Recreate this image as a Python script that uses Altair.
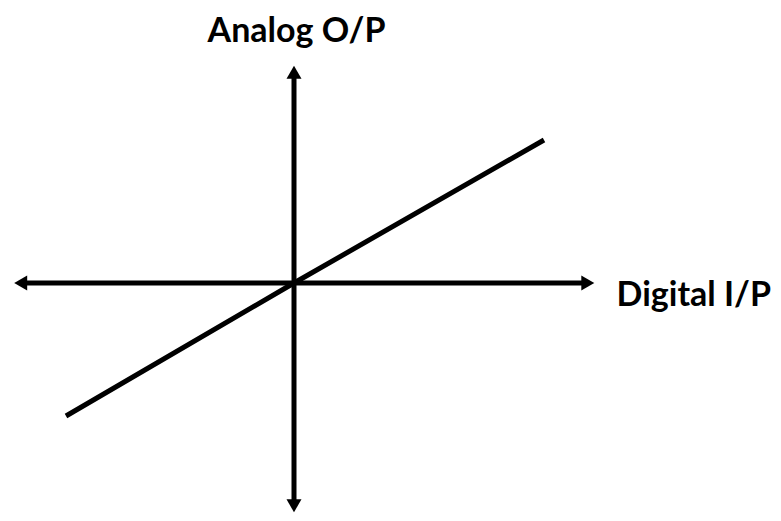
import altair as alt
import pandas as pd

# Axis extents (tip to tip), in signal units
x_axis_ends = [-27.95, 30.0]    # Digital I/P axis
y_axis_ends = [-22.9, 21.7]     # Analog O/P axis

# Transfer characteristic (linear, through origin)
line_x = [-22.8, 0.0, 25.0]
line_y = [-13.3, 0.0, 14.3]

# Axis titles
axis_labels = ["Analog O/P", "Digital I/P"]
label_x = [0.25, 47.7]
label_y = [24.1, -2.3]
label_align = ["center", "right"]

head = 0.62  # arrowhead centre offset from tip

xs = alt.Scale(domain=[-28.6, 47.9], nice=False, zero=False)
ys = alt.Scale(domain=[-23.0, 27.5], nice=False, zero=False)

shafts = pd.DataFrame({
    "x": [x_axis_ends[0] + head, 0.0],
    "x2": [x_axis_ends[1] - head, 0.0],
    "y": [0.0, y_axis_ends[0] + head],
    "y2": [0.0, y_axis_ends[1] - head],
})

heads = pd.DataFrame({
    "x": [x_axis_ends[0] + head, x_axis_ends[1] - head, 0.0, 0.0],
    "y": [0.0, 0.0, y_axis_ends[1] - head, y_axis_ends[0] + head],
    "shape": ["triangle-left", "triangle-right", "triangle-up", "triangle-down"],
})

line_df = pd.DataFrame({"x": line_x, "y": line_y})

shaft_layer = alt.Chart(shafts).mark_rule(color="black", strokeWidth=5).encode(
    x=alt.X("x:Q", scale=xs, axis=None),
    x2="x2:Q",
    y=alt.Y("y:Q", scale=ys, axis=None),
    y2="y2:Q",
)

head_layer = alt.Chart(heads).mark_point(
    filled=True, size=225, color="black", opacity=1, strokeWidth=0
).encode(
    x=alt.X("x:Q", scale=xs, axis=None),
    y=alt.Y("y:Q", scale=ys, axis=None),
    shape=alt.Shape("shape:N", scale=None, legend=None),
)

line_layer = alt.Chart(line_df).mark_line(color="black", strokeWidth=5, strokeCap="butt").encode(
    x=alt.X("x:Q", scale=xs, axis=None),
    y=alt.Y("y:Q", scale=ys, axis=None),
    order="x:Q",
)

text_layers = []
for t, lx, ly, al in zip(axis_labels, label_x, label_y, label_align):
    text_layers.append(
        alt.Chart(pd.DataFrame({"x": [lx], "y": [ly], "t": [t]})).mark_text(
            font="Lato", fontWeight="bold", fontSize=34, color="black",
            align=al, baseline="alphabetic"
        ).encode(
            x=alt.X("x:Q", scale=xs, axis=None),
            y=alt.Y("y:Q", scale=ys, axis=None),
            text="t:N",
        )
    )

chart = alt.layer(shaft_layer, line_layer, head_layer, *text_layers).properties(
    width=765, height=505,
    padding=0,
    autosize=alt.AutoSizeParams(type="none"),
    background="white",
).configure_view(stroke=None)

chart.save("out.html", embed_options={"renderer": "svg", "actions": False})
